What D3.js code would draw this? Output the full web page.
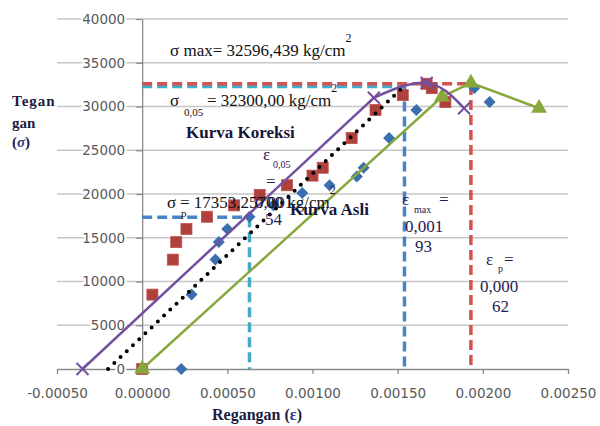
<!DOCTYPE html>
<html>
<head>
<meta charset="utf-8">
<script src="https://cdn.jsdelivr.net/npm/d3@7"></script>
<style>
  body { margin: 0; background: #fff; }
  .serif { font-family: "Liberation Serif", "Times New Roman", serif; }
</style>
</head>
<body>
<svg id="chart" width="600" height="426"></svg>
<script>
// tick values
const xTicks = [-0.0005, 0, 0.0005, 0.001, 0.0015, 0.002, 0.0025];
const yTicks = [0, 5000, 10000, 15000, 20000, 25000, 30000, 35000, 40000];

// red squares
const redX = [0, 0.00006, 0.00018, 0.0002, 0.00026, 0.00038, 0.00054, 0.00069, 0.00085, 0.001, 0.00106, 0.00123, 0.00137, 0.00153, 0.00167, 0.0017, 0.00178];
const redY = [0, 8500, 12500, 14500, 16000, 17400, 18700, 19900, 21000, 22100, 23000, 26400, 29600, 31300, 32600, 32100, 30500];

// blue diamonds
const blueX = [0.00023, 0.00029, 0.00043, 0.00045, 0.0005, 0.00063, 0.00077, 0.00094, 0.0011, 0.00126, 0.0013, 0.00145, 0.00161, 0.00195, 0.00204];
const blueY = [0, 8500, 12500, 14500, 16000, 17400, 18700, 20100, 21000, 22000, 23000, 26400, 29600, 32100, 30500];

// Kurva Koreksi (purple, X markers)
const koreksiX = [-0.00035, 0.00136, 0.00167, 0.00189];
const koreksiY = [0, 31000, 32700, 29800];

// Kurva Asli (green, triangles)
const asliX = [0, 0.00176, 0.00193, 0.00233];
const asliY = [0, 31100, 32700, 29800];

// dotted trend line
const trendX = [-0.0002, 0.00152];
const trendY = [0, 32000];

// reference values
const sigmaMax = 32596.439, sigma005 = 32300, sigmaP = 17353.257;
const epsMaxLine = 0.00193, eps005Line = 0.00154, epsPLine = 0.00063;

const zip = (xs, ys) => xs.map((v, i) => [v, ys[i]]);

const svg = d3.select("#chart");

const x = d3.scaleLinear().domain([-0.0005, 0.0025]).range([57, 568]);
const y = d3.scaleLinear().domain([0, 40000]).range([369, 19]);

// gridlines
svg.append("g")
  .selectAll("line")
  .data(yTicks.slice(1))
  .join("line")
  .attr("x1", x.range()[0])
  .attr("x2", x.range()[1])
  .attr("y1", d => y(d))
  .attr("y2", d => y(d))
  .attr("stroke", "#c6c6c6")
  .attr("stroke-width", 1.3);

// axes
const xAxis = svg.append("g")
  .attr("transform", `translate(0,${y(0)})`)
  .call(d3.axisBottom(x).tickValues(xTicks).tickFormat(d => d.toFixed(5)).tickSize(5).tickSizeOuter(0).tickPadding(14));

const yAxis = svg.append("g")
  .attr("transform", `translate(${x(0)},0)`)
  .call(d3.axisLeft(y).tickValues(yTicks).tickFormat(d3.format("d")).tickSize(6).tickSizeOuter(0).tickPadding(11));

[xAxis, yAxis].forEach(a => {
  a.select(".domain").attr("stroke", "#8a8a8a").attr("stroke-width", 1.3);
  a.selectAll(".tick line").attr("stroke", "#8a8a8a").attr("stroke-width", 1.3);
  a.selectAll(".tick text")
    .attr("fill", "#595959")
    .style("font-family", "'DejaVu Sans', sans-serif")
    .style("font-size", "13.5px");
});
yAxis.selectAll(".tick text")
  .attr("stroke", "#fff")
  .attr("stroke-width", 4)
  .attr("paint-order", "stroke");

// dashed guide lines
const line = d3.line().x(d => x(d[0])).y(d => y(d[1]));
const dashed = (pts, color) => svg.append("path")
  .attr("d", line(pts))
  .attr("fill", "none")
  .attr("stroke", color)
  .attr("stroke-width", 3.5)
  .attr("stroke-dasharray", "10 5");

dashed([[0, sigma005], [eps005Line, sigma005]], "#45aac6");
dashed([[eps005Line, sigma005], [eps005Line, 0]], "#4a84c4");
dashed([[0, sigmaMax], [epsMaxLine, sigmaMax], [epsMaxLine, 300]], "#d4534f");
dashed([[0, sigmaP], [epsPLine, sigmaP]], "#4a84c4");
dashed([[epsPLine, sigmaP], [epsPLine, 0]], "#45aac6");

// red squares
svg.append("g")
  .selectAll("rect")
  .data(zip(redX, redY))
  .join("rect")
  .attr("x", d => x(d[0]) - 5.5)
  .attr("y", d => y(d[1]) - 5.5)
  .attr("width", 11)
  .attr("height", 11)
  .attr("fill", "#b0403c")
  .attr("stroke", "#c0504d")
  .attr("stroke-width", 0.8);

// blue diamonds
svg.append("g")
  .selectAll("path")
  .data(zip(blueX, blueY))
  .join("path")
  .attr("d", d3.symbol(d3.symbolSquare, 72))
  .attr("transform", d => `translate(${x(d[0])},${y(d[1])}) rotate(45)`)
  .attr("fill", "#3b6eae");

// Kurva Asli
svg.append("path")
  .attr("d", line(zip(asliX, asliY)))
  .attr("fill", "none")
  .attr("stroke", "#86a83d")
  .attr("stroke-width", 2.5);

svg.append("g")
  .selectAll("path")
  .data(zip(asliX, asliY))
  .join("path")
  .attr("d", d3.symbol(d3.symbolTriangle, 110))
  .attr("transform", d => `translate(${x(d[0])},${y(d[1])})`)
  .attr("fill", "#86a83d");

// Kurva Koreksi: straight rising part, smoothed top
const koreksi = zip(koreksiX, koreksiY);
const smooth = d3.line().x(d => x(d[0])).y(d => y(d[1])).curve(d3.curveNatural);
svg.append("path")
  .attr("d", line(koreksi.slice(0, 2)) + smooth(koreksi.slice(1)).replace(/^M[^CL]*/, ""))
  .attr("fill", "none")
  .attr("stroke", "#7350a0")
  .attr("stroke-width", 2.5);

svg.append("g")
  .selectAll("path")
  .data(koreksi)
  .join("path")
  .attr("d", d3.symbol(d3.symbolX, 96))
  .attr("transform", d => `translate(${x(d[0])},${y(d[1])})`)
  .attr("fill", "none")
  .attr("stroke", "#7350a0")
  .attr("stroke-width", 2);

// dotted trend line
svg.append("path")
  .attr("d", line(zip(trendX, trendY)))
  .attr("fill", "none")
  .attr("stroke", "#000")
  .attr("stroke-width", 4)
  .attr("stroke-linecap", "round")
  .attr("stroke-dasharray", "0 8.6");

// annotation text
const note = (tx, ty, s, size, color, weight) => svg.append("text")
  .attr("class", "serif")
  .attr("x", tx)
  .attr("y", ty)
  .attr("fill", color || "#111")
  .style("font-size", (size || 17) + "px")
  .style("font-weight", weight || "normal")
  .text(s);
const sup = (t) => t.append("tspan").attr("dy", -14).style("font-size", "12px").text("2");

sup(note(170, 56, "σ max= 32596,439 kg/cm"));

note(170, 106, "σ");
note(184, 116, "0,05", 11);
sup(note(207, 106, "= 32300,00 kg/cm"));

note(186, 138, "Kurva Koreksi", 17, "#15153a", "bold");

const epsColor = "#1f2050";
note(263, 160, "ε", 17, epsColor);
note(273, 168, "0,05", 10, epsColor);
note(266, 187, "=", 17, epsColor);
note(255, 208, "0,001", 17, epsColor);
note(265, 225, "54", 17, epsColor);

note(167, 208, "σ");
note(181, 217, "p", 11);
sup(note(180, 208, "= 17353,25700 kg/cm"));

note(290, 215, "Kurva Asli", 17, "#15153a", "bold");

note(402, 205, "ε", 17, epsColor);
note(414, 213, "max", 10, epsColor);
note(439, 205, "=", 17, epsColor);
note(405, 232, "0,001", 17, epsColor);
note(415, 252, "93", 17, epsColor);

note(486, 265, "ε", 17, epsColor);
note(498, 272, "p", 10, epsColor);
note(504, 265, "=", 17, epsColor);
note(480, 292, "0,000", 17, epsColor);
note(492, 312, "62", 17, epsColor);

// axis titles
const titleColor = "#1c1c3e";
note(12, 106, "Tegan", 15, titleColor, "bold").style("letter-spacing", "1px");
note(12, 128, "gan", 15, titleColor, "bold");
const sigT = note(12, 147, "(", 15, titleColor, "bold");
sigT.append("tspan").style("font-style", "italic").attr("fill", "#2b3b8a").text("σ");
sigT.append("tspan").text(")");

const regT = note(212, 420, "Regangan (", 16, titleColor, "bold");
regT.append("tspan").attr("fill", "#2b3b8a").text("ε");
regT.append("tspan").text(")");
</script>
</body>
</html>
